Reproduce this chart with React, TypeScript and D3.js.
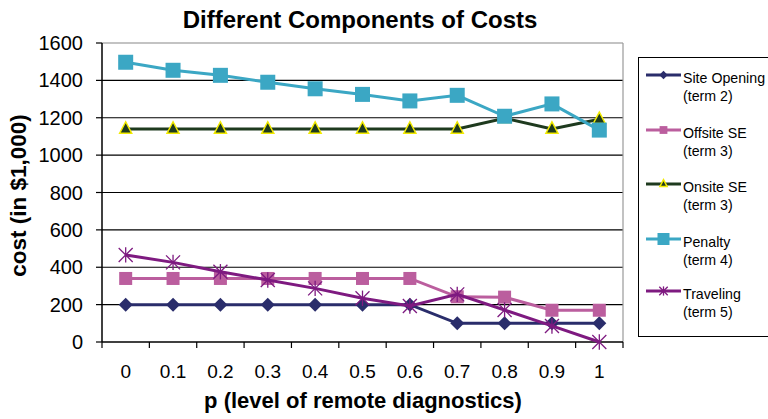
import React from "react";
import * as d3 from "d3";

const categories = ["0", "0.1", "0.2", "0.3", "0.4", "0.5", "0.6", "0.7", "0.8", "0.9", "1"];
const yTicks = [0, 200, 400, 600, 800, 1000, 1200, 1400, 1600];
const siteOpening = [200, 200, 200, 200, 200, 200, 200, 100, 100, 100, 100];
const offsiteSE = [340, 340, 340, 340, 340, 340, 340, 242, 240, 170, 170];
const onsiteSE = [1140, 1140, 1140, 1140, 1140, 1140, 1140, 1140, 1197, 1140, 1192];
const penalty = [1497, 1454, 1427, 1390, 1355, 1325, 1290, 1320, 1208, 1274, 1134];
const traveling = [466, 426, 376, 332, 287, 234, 193, 255, 171, 86, 0];

const seriesNames = [
  ["Site Opening", "(term 2)"],
  ["Offsite SE", "(term 3)"],
  ["Onsite SE", "(term 3)"],
  ["Penalty", "(term 4)"],
  ["Traveling", "(term 5)"],
];

const series = [
  { values: siteOpening, color: "#2A2D6B", marker: "diamond" },
  { values: offsiteSE, color: "#BB5E9E", marker: "square" },
  { values: onsiteSE, color: "#1E3A1E", marker: "triangle" },
  { values: penalty, color: "#3BA7C4", marker: "bigsquare" },
  { values: traveling, color: "#7E1A80", marker: "star" },
];

const font = "Liberation Sans, Arial, sans-serif";

function Marker({ type, x, y, color, scale = 1 }: any) {
  if (type === "diamond") {
    const s = 7 * scale;
    return <path d={`M${x},${y - s}L${x + s},${y}L${x},${y + s}L${x - s},${y}Z`} fill={color} />;
  }
  if (type === "square") {
    const s = 6.5 * scale;
    return <rect x={x - s} y={y - s} width={2 * s} height={2 * s} fill={color} />;
  }
  if (type === "bigsquare") {
    const s = 7.5 * scale;
    return <rect x={x - s} y={y - s} width={2 * s} height={2 * s} fill={color} />;
  }
  if (type === "triangle") {
    const s = 6 * scale;
    return (
      <path
        d={`M${x},${y - s * 1.2}L${x + s},${y + s * 0.7}L${x - s},${y + s * 0.7}Z`}
        fill={color}
        stroke="#F2EA00"
        strokeWidth={1.5}
      />
    );
  }
  const s = 7 * scale;
  return (
    <g stroke={color} strokeWidth={1.3}>
      <line x1={x - s} y1={y - s} x2={x + s} y2={y + s} />
      <line x1={x - s} y1={y + s} x2={x + s} y2={y - s} />
      <line x1={x} y1={y - s * 1.1} x2={x} y2={y + s * 1.1} />
    </g>
  );
}

export default function App() {
  const W = 768, H = 419;
  const left = 102, right = 623, top = 43, bottom = 342;
  const x = d3.scaleBand<string>().domain(categories).range([left, right]);
  const y = d3.scaleLinear().domain([0, 1600]).range([bottom, top]);
  const cx = (c: string) => (x(c) as number) + x.bandwidth() / 2;
  const line = d3
    .line<number>()
    .x((_, i) => cx(categories[i]))
    .y((d) => y(d));

  const legendY = [75, 130, 184, 239, 291];

  return (
    <svg width={W} height={H} style={{ position: "absolute", left: 0, top: 0 }} fontFamily={font}>
      <rect width={W} height={H} fill="#fff" />
      <text x={360} y={28} textAnchor="middle" fontSize={24} fontWeight="bold">
        Different Components of Costs
      </text>
      {/* gridlines */}
      {yTicks.slice(1).map((t) => (
        <line key={t} x1={left} x2={right} y1={y(t)} y2={y(t)} stroke={t === 1600 ? "#888" : "#000"} strokeWidth={1.2} />
      ))}
      <line x1={right} x2={right} y1={top} y2={bottom} stroke="#999" strokeWidth={1.2} />
      {/* axes */}
      <line x1={left} x2={left} y1={top} y2={bottom} stroke="#000" strokeWidth={1.5} />
      <line x1={left} x2={right} y1={bottom} y2={bottom} stroke="#000" strokeWidth={1.5} />
      {yTicks.map((t) => (
        <g key={t}>
          <line x1={left - 6} x2={left} y1={y(t)} y2={y(t)} stroke="#000" strokeWidth={1.2} />
          <text x={left - 19} y={y(t) + 7} textAnchor="end" fontSize={20}>
            {t}
          </text>
        </g>
      ))}
      {categories.map((c, i) => (
        <g key={c}>
          <line x1={x(c) as number} x2={x(c) as number} y1={bottom} y2={bottom + 6} stroke="#000" strokeWidth={1.2} />
          <text x={cx(c)} y={378} textAnchor="middle" fontSize={19}>
            {c}
          </text>
        </g>
      ))}
      <line x1={right} x2={right} y1={bottom} y2={bottom + 6} stroke="#000" strokeWidth={1.2} />
      <text x={363} y={408} textAnchor="middle" fontSize={22} fontWeight="bold">
        p (level of remote diagnostics)
      </text>
      <text transform={`translate(26,195.5) rotate(-90)`} textAnchor="middle" fontSize={22.5} fontWeight="bold">
        cost (in $1,000)
      </text>
      {/* series */}
      {series.map((s, si) => (
        <g key={si}>
          <path d={line(s.values) as string} fill="none" stroke={s.color} strokeWidth={3} />
          {s.values.map((v, i) => (
            <Marker key={i} type={s.marker} x={cx(categories[i])} y={y(v)} color={s.color} />
          ))}
        </g>
      ))}
      {/* legend */}
      <rect x={638.5} y={57.5} width={140} height={279} fill="#fff" stroke="#000" strokeWidth={1} />
      {series.map((s, si) => (
        <g key={si}>
          <line x1={646} x2={681} y1={legendY[si]} y2={legendY[si]} stroke={s.color} strokeWidth={3} />
          <Marker type={s.marker} x={663.5} y={legendY[si]} color={s.color} scale={s.marker === "bigsquare" ? 0.8 : 0.6} />
          <text x={683} y={legendY[si] + 8} fontSize={14.2}>
            {seriesNames[si][0]}
          </text>
          <text x={683} y={legendY[si] + 26} fontSize={14.2}>
            {seriesNames[si][1]}
          </text>
        </g>
      ))}
    </svg>
  );
}
